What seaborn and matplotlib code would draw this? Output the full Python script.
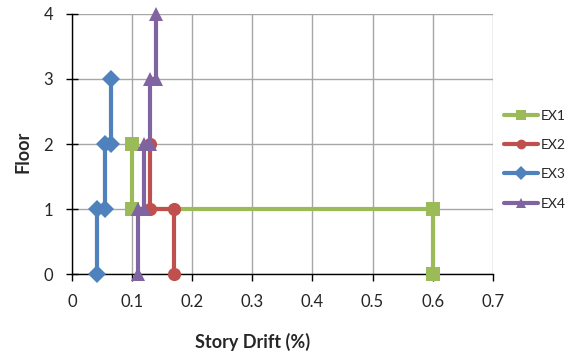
import matplotlib
matplotlib.use("Agg")
import matplotlib.pyplot as plt
import seaborn as sns
import pandas as pd
from matplotlib.lines import Line2D

# Story drift profiles (drift %, floor), traced as step paths
ex1_drift = [0.60, 0.60, 0.10, 0.10]
ex1_floor = [0, 1, 1, 2]
ex2_drift = [0.17, 0.17, 0.13, 0.13]
ex2_floor = [0, 1, 1, 2]
ex3_drift = [0.042, 0.042, 0.055, 0.055, 0.065, 0.065]
ex3_floor = [0, 1, 1, 2, 2, 3]
ex4_drift = [0.11, 0.11, 0.12, 0.12, 0.13, 0.13, 0.14, 0.14]
ex4_floor = [0, 1, 1, 2, 2, 3, 3, 4]

series_names = ["EX1", "EX2", "EX3", "EX4"]
x_ticks = [0, 0.1, 0.2, 0.3, 0.4, 0.5, 0.6, 0.7]
x_tick_labels = ["0", "0.1", "0.2", "0.3", "0.4", "0.5", "0.6", "0.7"]
y_ticks = [0, 1, 2, 3, 4]

colors = {"EX1": "#9BBB59", "EX2": "#C0504D", "EX3": "#4F81BD", "EX4": "#8064A2"}
markers = {"EX1": "s", "EX2": "o", "EX3": "D", "EX4": "^"}
msizes = {"EX1": 9.5, "EX2": 9.5, "EX3": 9.5, "EX4": 10.5}

frames = []
for name, xs, ys in zip(series_names,
                        [ex1_drift, ex2_drift, ex3_drift, ex4_drift],
                        [ex1_floor, ex2_floor, ex3_floor, ex4_floor]):
    frames.append(pd.DataFrame({"drift": xs, "floor": ys, "series": name}))
df = pd.concat(frames, ignore_index=True)

sns.set_style("white")
plt.rcParams["font.family"] = ["Lato", "DejaVu Sans"]

fig, ax = plt.subplots(figsize=(5.75, 3.57), dpi=100)
fig.subplots_adjust(left=0.125, right=0.857, top=0.961, bottom=0.232)

for name in series_names:
    sub = df[df["series"] == name]
    sns.lineplot(data=sub, x="drift", y="floor", sort=False, estimator=None,
                 color=colors[name], marker=markers[name],
                 markersize=msizes[name], markeredgewidth=0, linewidth=3,
                 ax=ax, zorder=3, clip_on=False, legend=False)

ax.set_xlim(0, 0.7)
ax.set_ylim(0, 4)
ax.set_xticks(x_ticks)
ax.set_xticklabels(x_tick_labels)
ax.set_yticks(y_ticks)
ax.grid(True, color="#A6A6A6", linewidth=1)
ax.set_axisbelow(True)
for side in ["top", "right"]:
    ax.spines[side].set_visible(False)
for side in ["left", "bottom"]:
    ax.spines[side].set_color("black")
    ax.spines[side].set_linewidth(1)
ax.tick_params(axis="x", direction="out", length=5, width=1,
               color="black", labelsize=12, pad=9, bottom=True)
ax.tick_params(axis="y", direction="inout", length=9, width=1,
               color="black", labelsize=12, pad=9, left=True)

ax.set_xlabel("Story Drift (%)", fontsize=13, fontweight="bold")
ax.set_ylabel("Floor", fontsize=13, fontweight="bold")
ax.xaxis.set_label_coords(0.43, -0.26)
ax.yaxis.set_label_coords(-0.116, 0.47)
ax.xaxis.label.set_va("center")
ax.yaxis.label.set_va("center")

handles = [Line2D([0], [0], color=colors[n], marker=markers[n], markersize=7,
                  markeredgewidth=0, linewidth=3) for n in series_names]
fig.legend(handles, series_names, loc="center left",
           bbox_to_anchor=(0.866, 0.553), frameon=False, fontsize=10,
           handlelength=2.5, handletextpad=0.2, labelspacing=1.25,
           borderaxespad=0)

fig.savefig("out.png", dpi=100)
